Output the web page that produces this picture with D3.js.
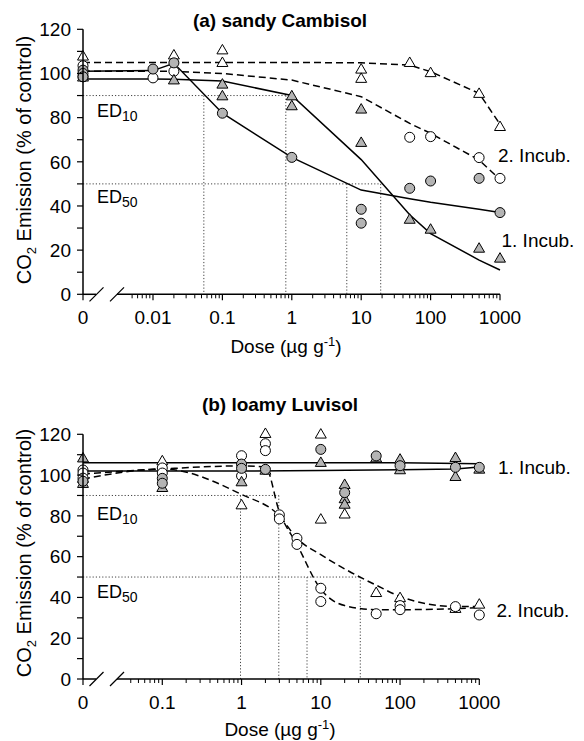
<!DOCTYPE html>
<html><head><meta charset="utf-8">
<script src="https://cdn.jsdelivr.net/npm/d3@7"></script>
<style>
body{margin:0;background:#fff}
svg text{font-family:"Liberation Sans",Arial,Helvetica,sans-serif;fill:#000}
</style>
</head><body><div id="chart"></div>
<script>
// ================= DATA =================
const yTickValues = [0, 10, 20, 30, 40, 50, 60, 70, 80, 90, 100, 110, 120];
const yTickLabels = ["0", "", "20", "", "40", "", "60", "", "80", "", "100", "", "120"];

// ---- (a) sandy Cambisol ----
const aTitle = "(a) sandy Cambisol";
const aXTicks = [0.01, 0.1, 1, 10, 100, 1000];
const aXTickLabels = ["0.01", "0.1", "1", "10", "100", "1000"];
const aInc1Circles = [[0,101.5],[0,100],[0,98.5],[0.01,102],[0.02,104.8],[0.1,82],[1,62],[10,38.5],[10,32.2],[50,48],[100,51.3],[500,52.5],[1000,37]];
const aInc1Triangles = [[0,98],[0.02,96.7],[0.1,94.8],[0.1,89.5],[1,89.5],[1,85],[10,83.5],[10,68.4],[50,33.6],[100,29.1],[500,20.5],[1000,16]];
const aInc2Circles = [[0,103.5],[0,98.5],[0.01,98],[0.02,101],[50,71.1],[100,71.4],[500,61.9],[1000,52.5]];
const aInc2Triangles = [[0,107.5],[0.02,108],[0.1,110.3],[0.1,104.6],[10,101.6],[10,97.4],[50,104.6],[100,100],[500,90.6],[1000,75.6]];
const aInc1CircleFit = [[0,101],[0.01,101.3],[0.02,104.6],[0.1,82],[1,62],[10,47.2],[50,43.3],[100,41.7],[500,38.5],[1000,37]];
const aInc1TriangleFit = [[0,97.5],[0.01,97.5],[0.02,97.4],[0.1,96.6],[1,90],[10,61],[50,36],[100,27.5],[500,15.5],[1000,11]];
const aInc2CircleFit = [[0,101],[0.02,101],[0.1,100],[1,97],[10,89.5],[50,77.4],[100,72.9],[500,60.8],[1000,52]];
const aInc2TriangleFit = [[0,105],[1,105],[10,104.8],[50,103.8],[100,100.8],[500,91],[1000,77]];
const aED10 = [0.054, 0.82];
const aED50 = [6.2, 19.1];

// ---- (b) loamy Luvisol ----
const bTitle = "(b) loamy Luvisol";
const bXTicks = [0.1, 1, 10, 100, 1000];
const bXTickLabels = ["0.1", "1", "10", "100", "1000"];
const bInc1Circles = [[0,97],[0.1,98.4],[0.1,96],[1,105.4],[1,103.3],[2,102.8],[10,112.6],[20,91.4],[50,109.4],[100,104.6],[500,103.8],[1000,103.8]];
const bInc1Triangles = [[0,108],[0,95.5],[0.1,93.5],[1,96.3],[2,102],[10,105.8],[20,95],[20,88],[20,85.3],[50,108],[100,107.4],[100,102.2],[500,108.2],[500,98.9],[1000,102.5]];
const bInc2Circles = [[0,102.5],[0,101],[0,98.5],[0.1,103.5],[0.1,101],[1,109.5],[1,99.6],[2,115.4],[2,112],[3,80.5],[3,78.5],[5,69],[5,66],[10,44.5],[10,38],[50,32],[100,36],[100,34],[500,35.5],[1000,31.4]];
const bInc2Triangles = [[0,98],[0.1,106.6],[1,85],[2,120],[10,119.7],[10,78],[20,80.5],[50,42],[100,39.5],[500,34.2],[1000,36.3]];
const bInc1UpperFit = [[0,106],[0.1,106],[1,106],[10,106],[100,106],[1000,105.6]];
const bInc1LowerFit = [[0,102],[0.1,102],[1,102],[10,102.2],[100,102.6],[500,103],[1000,104]];
const bInc2CircleFit = [[0,100.5],[0.1,103],[1,104.5],[2,104],[3,82],[5,66],[10,44],[20,36],[50,34],[100,34],[500,34.5],[1000,35]];
const bInc2TriangleFit = [[0,98],[0.1,103],[1,90.5],[3,80],[5,69],[10,61],[20,54],[50,46],[100,40.5],[500,35.5],[1000,35.5]];
const bED10 = [0.97, 2.95];
const bED50 = [6.7, 31.5];

const incubLabels = ["1. Incub.", "2. Incub."];

// ================= LAYOUT =================
const W = 584, H = 741;
const GRAY = "#b4b4b4";
const svg = d3.select("#chart").append("svg").attr("width", W).attr("height", H)
  .style("background", "#fff");

const panels = [
  { title: aTitle, titleY: 27, x0: 83, xMin: 0.01, xMinPx: 153, xMaxPx: 500, minorStart: 0.005,
    yBottom: 294.3, yTop: 29.3, xTicks: aXTicks, xTickLabels: aXTickLabels,
    inc1C: aInc1Circles, inc1T: aInc1Triangles, inc2C: aInc2Circles, inc2T: aInc2Triangles,
    solid: [aInc1CircleFit, aInc1TriangleFit], dashed: [aInc2CircleFit, aInc2TriangleFit], dashedCurve: d3.curveLinear,
    ed10: aED10, ed50: aED50, ed10Y: 117, ed50Y: 203, labelCenterX: 286, labelY: 353, yLabelCenter: 160,
    inc1Label: [501.5, 246.5], inc2Label: [498, 161.5] },
  { title: bTitle, titleY: 411, x0: 83, xMin: 0.1, xMinPx: 162.3, xMaxPx: 479.3, minorStart: 0.04,
    yBottom: 679, yTop: 434.3, xTicks: bXTicks, xTickLabels: bXTickLabels,
    inc1C: bInc1Circles, inc1T: bInc1Triangles, inc2C: bInc2Circles, inc2T: bInc2Triangles,
    solid: [bInc1UpperFit, bInc1LowerFit], dashed: [bInc2CircleFit, bInc2TriangleFit], dashedCurve: d3.curveMonotoneX,
    ed10: bED10, ed50: bED50, ed10Y: 520, ed50Y: 598, labelCenterX: 280, labelY: 736, yLabelCenter: 553,
    inc1Label: [498, 474], inc2Label: [496.5, 617] }
];

panels.forEach(p => {
  const g = svg.append("g");
  const xs = d3.scaleLog().domain([p.xMin, 1000]).range([p.xMinPx, p.xMaxPx]);
  const y = d3.scaleLinear().domain([0, 120]).range([p.yBottom, p.yTop]);
  const X = d => d === 0 ? p.x0 : xs(d);

  // title
  g.append("text").attr("x", 280).attr("y", p.titleY).attr("text-anchor", "middle")
    .style("font-size", "19px").style("font-weight", "bold").text(p.title);

  // ED dotted lines
  const dot = sel => sel.attr("stroke", "#444").attr("stroke-width", 1).attr("stroke-dasharray", "1.2,2").attr("fill", "none");
  const ed10Max = d3.max(p.ed10), ed50Max = d3.max(p.ed50);
  g.append("line").attr("x1", p.x0).attr("x2", xs(ed10Max)).attr("y1", y(90)).attr("y2", y(90)).call(dot);
  g.append("line").attr("x1", p.x0).attr("x2", xs(ed50Max)).attr("y1", y(50)).attr("y2", y(50)).call(dot);
  p.ed10.forEach(d => g.append("line").attr("x1", xs(d)).attr("x2", xs(d)).attr("y1", y(90)).attr("y2", y(0)).call(dot));
  p.ed50.forEach(d => g.append("line").attr("x1", xs(d)).attr("x2", xs(d)).attr("y1", y(50)).attr("y2", y(0)).call(dot));

  // ED labels
  [[p.ed10Y, "10"], [p.ed50Y, "50"]].forEach(([ty, sub]) => {
    const t = g.append("text").attr("x", 97).attr("y", ty).style("font-size", "18px");
    t.append("tspan").text("ED");
    t.append("tspan").attr("dy", 4).style("font-size", "14px").text(sub);
  });

  // fitted lines
  const line = c => d3.line().x(d => X(d[0])).y(d => y(d[1])).curve(c);
  p.solid.forEach(s => g.append("path").datum(s).attr("d", line(d3.curveLinear))
    .attr("fill", "none").attr("stroke", "#000").attr("stroke-width", 1.5));
  p.dashed.forEach(s => g.append("path").datum(s).attr("d", line(p.dashedCurve))
    .attr("fill", "none").attr("stroke", "#000").attr("stroke-width", 1.5).attr("stroke-dasharray", "7,4"));

  // markers
  const tri = d3.symbol().type(d3.symbolTriangle).size(52)();
  const drawTri = (data, fill) => g.selectAll(null).data(data).enter().append("path").attr("d", tri)
    .attr("transform", d => `translate(${X(d[0])},${y(d[1])})`)
    .attr("fill", fill).attr("stroke", "#000").attr("stroke-width", 1);
  const drawCirc = (data, fill) => g.selectAll(null).data(data).enter().append("circle")
    .attr("cx", d => X(d[0])).attr("cy", d => y(d[1])).attr("r", 5)
    .attr("fill", fill).attr("stroke", "#000").attr("stroke-width", 1);
  drawTri(p.inc2T, "#fff");
  drawCirc(p.inc2C, "#fff");
  drawTri(p.inc1T, GRAY);
  drawCirc(p.inc1C, GRAY);

  // y axis
  g.append("line").attr("x1", p.x0).attr("x2", p.x0).attr("y1", y(0)).attr("y2", y(120))
    .attr("stroke", "#000").attr("stroke-width", 1.5);
  yTickValues.forEach((v, i) => {
    g.append("line").attr("x1", p.x0 - 6).attr("x2", p.x0).attr("y1", y(v)).attr("y2", y(v))
      .attr("stroke", "#000").attr("stroke-width", 1.2);
    if (yTickLabels[i]) g.append("text").attr("x", 71).attr("y", y(v)).attr("dy", "0.36em")
      .attr("text-anchor", "end").style("font-size", "19px").text(yTickLabels[i]);
  });

  // x axis with break
  const ay = y(0);
  g.append("line").attr("x1", p.x0).attr("x2", p.x0 + 13).attr("y1", ay).attr("y2", ay)
    .attr("stroke", "#000").attr("stroke-width", 1.5);
  g.append("line").attr("x1", p.x0 + 34).attr("x2", p.xMaxPx).attr("y1", ay).attr("y2", ay)
    .attr("stroke", "#000").attr("stroke-width", 1.5);
  [p.x0 + 13.5, p.x0 + 34].forEach(cx => g.append("line")
    .attr("x1", cx - 7).attr("y1", ay + 7).attr("x2", cx + 7).attr("y2", ay - 7)
    .attr("stroke", "#000").attr("stroke-width", 1.2));
  // zero tick
  g.append("line").attr("x1", p.x0).attr("x2", p.x0).attr("y1", ay).attr("y2", ay + 6)
    .attr("stroke", "#000").attr("stroke-width", 1.2);
  g.append("text").attr("x", p.x0).attr("y", ay + 30).attr("text-anchor", "middle")
    .style("font-size", "19px").text("0");
  // minor ticks
  for (let e = Math.floor(Math.log10(p.minorStart)); e < 3; e++) {
    for (let k = 2; k <= 9; k++) {
      const v = k * Math.pow(10, e);
      if (v >= p.minorStart * 0.999 && v <= 1000) {
        g.append("line").attr("x1", xs(v)).attr("x2", xs(v)).attr("y1", ay).attr("y2", ay + 4)
          .attr("stroke", "#000").attr("stroke-width", 1);
      }
    }
  }
  p.xTicks.forEach((v, i) => {
    g.append("line").attr("x1", xs(v)).attr("x2", xs(v)).attr("y1", ay).attr("y2", ay + 6)
      .attr("stroke", "#000").attr("stroke-width", 1.2);
    g.append("text").attr("x", xs(v)).attr("y", ay + 30).attr("text-anchor", "middle")
      .style("font-size", "19px").text(p.xTickLabels[i]);
  });

  // x label
  const xl = g.append("text").attr("x", p.labelCenterX).attr("y", p.labelY).attr("text-anchor", "middle")
    .style("font-size", "19px");
  xl.append("tspan").text("Dose (µg g");
  xl.append("tspan").attr("dy", -7).style("font-size", "13px").text("-1");
  xl.append("tspan").attr("dy", 7).text(")");

  // y label
  const yl = g.append("text").attr("transform", `translate(31,${p.yLabelCenter}) rotate(-90)`)
    .attr("text-anchor", "middle").style("font-size", "20px");
  yl.append("tspan").text("CO");
  yl.append("tspan").attr("dy", 5).style("font-size", "13px").text("2");
  yl.append("tspan").attr("dy", -5).text(" Emission (% of control)");

  // incubation labels
  g.append("text").attr("x", p.inc1Label[0]).attr("y", p.inc1Label[1]).style("font-size", "19px").text(incubLabels[0]);
  g.append("text").attr("x", p.inc2Label[0]).attr("y", p.inc2Label[1]).style("font-size", "19px").text(incubLabels[1]);
});
</script>
</body></html>
